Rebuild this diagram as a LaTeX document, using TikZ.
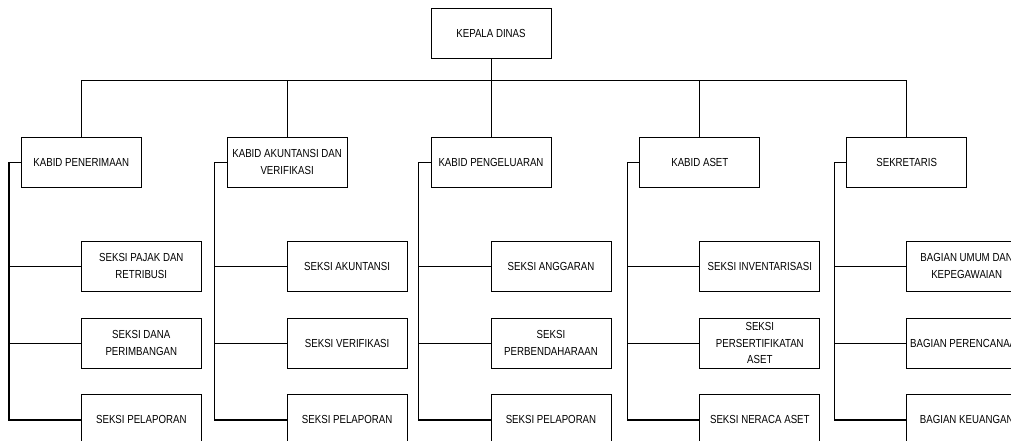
\documentclass[tikz,border=0pt]{standalone}
\usepackage{fontspec}
\setmainfont{Liberation Sans}[FakeStretch=0.83]
\usetikzlibrary{positioning}

\begin{document}
\begin{tikzpicture}[
  node distance=0cm,
  font=\fontsize{8.3pt}{12pt}\selectfont,
  boxnode/.style={rectangle, draw=black, line width=0.6pt, minimum width=3cm, minimum height=1.25cm, inner sep=1pt},
  line/.style = {line width=0.7pt},
  trunk/.style = {line width=1pt}
]

\useasboundingbox (-12.275,0.8375) rectangle (13,-10.1875);
\clip (-12.275,0.8375) rectangle (13,-10.1875);

%Nodes
\node[boxnode, align=center] (kepala) {KEPALA DINAS};

\node[boxnode, align=center, below=1.95cm of kepala] (kb3) {KABID PENGELUARAN};
\node[boxnode, align=center, left=2.075cm of kb3] (kb2) {KABID AKUNTANSI DAN \\ VERIFIKASI};
\node[boxnode, align=center, left=2.125cm of kb2] (kb1) {KABID PENERIMAAN};
\node[boxnode, align=center, right=2.2cm of kb3] (kb4) {KABID ASET};
\node[boxnode, align=center, right=2.15cm of kb4] (kb5) {SEKRETARIS};

%Seksi
\node[boxnode, align=center, below=1.325cm of kb1, xshift=1.5cm] (s11) {SEKSI PAJAK DAN \\ RETRIBUSI};
\node[boxnode, align=center, below=0.65cm of s11] (s12) {SEKSI DANA \\ PERIMBANGAN};
\node[boxnode, align=center, below=0.65cm of s12] (s13) {SEKSI PELAPORAN};

\node[boxnode, align=center, below=1.325cm of kb2, xshift=1.5cm] (s21) {SEKSI AKUNTANSI};
\node[boxnode, align=center, below=0.65cm of s21] (s22) {SEKSI VERIFIKASI};
\node[boxnode, align=center, below=0.65cm of s22] (s23) {SEKSI PELAPORAN};

\node[boxnode, align=center, below=1.325cm of kb3, xshift=1.5cm] (s31) {SEKSI ANGGARAN};
\node[boxnode, align=center, below=0.65cm of s31] (s32) {SEKSI \\ PERBENDAHARAAN};
\node[boxnode, align=center, below=0.65cm of s32] (s33) {SEKSI PELAPORAN};

\node[boxnode, align=center, below=1.325cm of kb4, xshift=1.5cm] (s41) {SEKSI INVENTARISASI};
\node[boxnode, align=center, below=0.65cm of s41] (s42) {SEKSI \\ PERSERTIFIKATAN \\ ASET};
\node[boxnode, align=center, below=0.65cm of s42] (s43) {SEKSI NERACA ASET};

\node[boxnode, align=center, below=1.325cm of kb5, xshift=1.5cm] (s51) {BAGIAN UMUM DAN \\ KEPEGAWAIAN};
\node[boxnode, align=center, below=0.65cm of s51] (s52) {BAGIAN PERENCANAAN};
\node[boxnode, align=center, below=0.65cm of s52] (s53) {BAGIAN KEUANGAN};

%Lines
\draw[line] (kepala.south) -- ++(0,-0.54) coordinate (bus);
\draw[line] (kb1.north) |- (bus) -| (kb5.north);
\draw[line] (kb2.north) -- (kb2.north |- bus);
\draw[line] (kb3.north) -- (bus);
\draw[line] (kb4.north) -- (kb4.north |- bus);

% Seksi lines
\coordinate[left=0.3cm of kb1.west] (t1);
\draw[trunk] (kb1.west) -- (t1) |- (s13.west);
\draw[line] (t1 |- s11.west) -- (s11.west);
\draw[line] (t1 |- s12.west) -- (s12.west);

\coordinate[left=0.3cm of kb2.west] (t2);
\draw[trunk] (kb2.west) -- (t2) |- (s23.west);
\draw[line] (t2 |- s21.west) -- (s21.west);
\draw[line] (t2 |- s22.west) -- (s22.west);

\coordinate[left=0.3cm of kb3.west] (t3);
\draw[trunk] (kb3.west) -- (t3) |- (s33.west);
\draw[line] (t3 |- s31.west) -- (s31.west);
\draw[line] (t3 |- s32.west) -- (s32.west);

\coordinate[left=0.3cm of kb4.west] (t4);
\draw[trunk] (kb4.west) -- (t4) |- (s43.west);
\draw[line] (t4 |- s41.west) -- (s41.west);
\draw[line] (t4 |- s42.west) -- (s42.west);

\coordinate[left=0.3cm of kb5.west] (t5);
\draw[trunk] (kb5.west) -- (t5) |- (s53.west);
\draw[line] (t5 |- s51.west) -- (s51.west);
\draw[line] (t5 |- s52.west) -- (s52.west);

\end{tikzpicture}
\end{document}
